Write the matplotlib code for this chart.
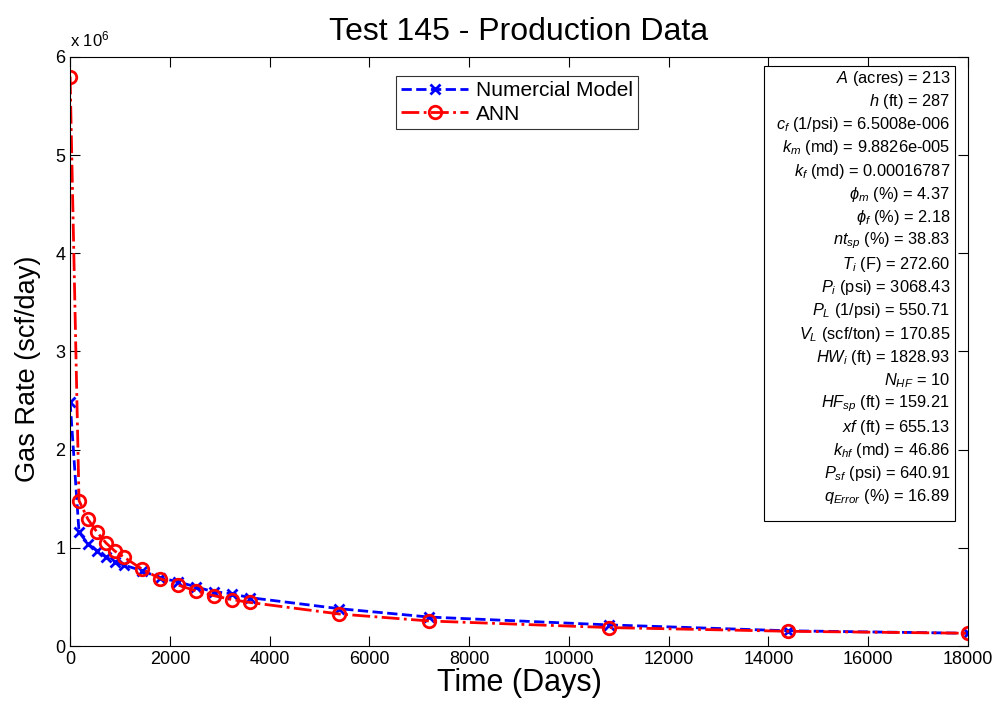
import matplotlib
matplotlib.use('Agg')
import matplotlib.pyplot as plt
from matplotlib.ticker import FuncFormatter
from matplotlib.patches import Rectangle

plt.rcParams['font.family'] = ['Liberation Sans', 'DejaVu Sans']
plt.rcParams['mathtext.fontset'] = 'custom'
plt.rcParams['mathtext.rm'] = 'Liberation Sans'
plt.rcParams['mathtext.it'] = 'Liberation Sans:italic'
plt.rcParams['mathtext.bf'] = 'Liberation Sans:bold'

# time in days
days = [1, 180, 360, 540, 720, 900, 1080, 1440, 1800, 2160, 2520, 2880,
        3240, 3600, 5400, 7200, 10800, 14400, 18000]
# gas rate (scf/day)
numerical = [2.49e6, 1.16e6, 1.04e6, 0.97e6, 0.905e6, 0.857e6, 0.824e6, 0.768e6,
             0.695e6, 0.655e6, 0.602e6, 0.553e6, 0.533e6, 0.493e6, 0.38e6,
             0.295e6, 0.215e6, 0.155e6, 0.13e6]
ann = [5.80e6, 1.48e6, 1.29e6, 1.16e6, 1.05e6, 0.966e6, 0.905e6, 0.784e6,
       0.687e6, 0.622e6, 0.562e6, 0.513e6, 0.473e6, 0.444e6, 0.326e6,
       0.255e6, 0.188e6, 0.15e6, 0.13e6]

params = [
    r'$A$ (acres) = 213',
    r'$h$ (ft) = 287',
    r'$c_f$ (1/psi) = 6.5008e-006',
    r'$k_m$ (md) = 9.8826e-005',
    r'$k_f$ (md) = 0.00016787',
    r'$\phi_m$ (%) = 4.37',
    r'$\phi_f$ (%) = 2.18',
    r'$nt_{sp}$ (%) = 38.83',
    r'$T_i$ (F) = 272.60',
    r'$P_i$ (psi) = 3068.43',
    r'$P_L$ (1/psi) = 550.71',
    r'$V_L$ (scf/ton) = 170.85',
    r'$HW_i$ (ft) = 1828.93',
    r'$N_{HF}$ = 10',
    r'$HF_{sp}$ (ft) = 159.21',
    r'$xf$ (ft) = 655.13',
    r'$k_{hf}$ (md) = 46.86',
    r'$P_{sf}$ (psi) = 640.91',
    r'$q_{Error}$ (%) = 16.89',
]

fig = plt.figure(figsize=(9.95, 7.11), dpi=100)
ax = fig.add_axes([0.0704, 0.0914, 0.9025, 0.8286])

ax.plot(days, numerical, color='blue', linestyle='--', linewidth=2,
        marker='x', markersize=7, markeredgewidth=2, label='Numercial Model')
ax.plot(days, ann, color='red', linestyle='-.', linewidth=2,
        marker='o', markersize=9, markeredgewidth=2, markerfacecolor='none',
        label='ANN')

ax.set_xlim(0, 18000)
ax.set_ylim(0, 6e6)
ax.set_xticks(range(0, 18001, 2000))
ax.set_yticks([i * 1e6 for i in range(7)])
ax.yaxis.set_major_formatter(FuncFormatter(lambda v, p: '%d' % round(v / 1e6)))
ax.tick_params(direction='in', top=True, right=True, length=7, labelsize=13)
for s in ax.spines.values():
    s.set_linewidth(0.8)

ax.text(0.0, 1.012, r'x 10$^6$', transform=ax.transAxes, fontsize=12,
        ha='left', va='bottom')

ax.set_title('Test 145 - Production Data', fontsize=23, pad=12)
ax.set_xlabel('Time (Days)', fontsize=22, labelpad=0)
ax.set_ylabel('Gas Rate (scf/day)', fontsize=19.5)
ax.yaxis.set_label_coords(-0.032, 0.47)

leg = ax.legend(loc='upper center', bbox_to_anchor=(0.498, 0.985), fontsize=15,
                handlelength=3.2, frameon=True, fancybox=False, edgecolor='black',
                borderpad=0.25, labelspacing=0.2, handletextpad=0.4)
leg.get_frame().set_linewidth(0.8)

# parameter box
box = Rectangle((0.7728, 0.213), 0.2127, 0.772, transform=ax.transAxes,
                facecolor='white', edgecolor='black', linewidth=0.8, zorder=5)
ax.add_patch(box)
y0 = 0.964
step = 0.0395
for i, line in enumerate(params):
    ax.text(0.980, y0 - i * step, line, transform=ax.transAxes, fontsize=11.8,
            ha='right', va='center', zorder=6)

fig.savefig('out.png', dpi=100)
